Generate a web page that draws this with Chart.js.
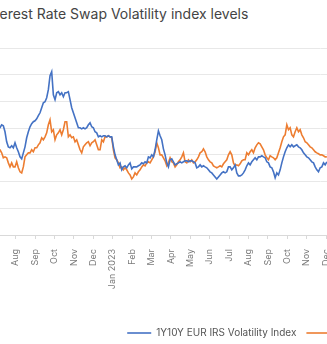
<!DOCTYPE html>
<html>
<head>
<meta charset="utf-8">
<script src="https://cdn.jsdelivr.net/npm/chart.js@4.4.1/dist/chart.umd.min.js"></script>
<style>
  html, body { margin: 0; padding: 0; background: #fff; overflow: hidden; width: 327px; height: 344px; }
  .title { position: absolute; left: -17px; top: 4px; font: 400 14px Inter, sans-serif; color: #444; white-space: nowrap; line-height: 20px; }
  .wrap { position: absolute; left: -60px; top: 0; width: 724px; height: 348px; }
</style>
</head>
<body>
<div class="title">Interest Rate Swap Volatility index levels</div>
<div class="wrap"><canvas id="chart" width="724" height="348"></canvas></div>
<script>
// ── Data ──────────────────────────────────────────────────────────────────────
// month axis: 0 = Jun 2022
const monthLabels = ['Jun', 'Jul', 'Aug', 'Sep', 'Oct', 'Nov', 'Dec', 'Jan 2023', 'Feb', 'Mar', 'Apr', 'May',
  'Jun', 'Jul', 'Aug', 'Sep', 'Oct', 'Nov', 'Dec', 'Jan 2024', 'Feb', 'Mar', 'Apr', 'May',
  'Jun', 'Jul', 'Aug', 'Sep', 'Oct', 'Nov', 'Dec', 'Jan 2025', 'Feb', 'Mar', 'Apr', 'May'];

const firstMonth = 1.014;  // first observation (early Jul 2022)
const monthStep  = 0.086;  // spacing between observations, in months

const seriesNames = ['1Y10Y EUR IRS Volatility Index', '1Y10Y USD IRS Volatility Index'];

const eurVol = [
  78.8, 79.5, 80.3, 82.5, 81.8, 77.3, 69.8, 66, 65.3, 66.8,
  65.3, 69, 65.3, 62.3, 58.5, 57, 61.5, 66, 72.8, 77.3,
  81, 83.3, 84.8, 85.5, 87, 89.3, 91.5, 95.3, 99, 99.8,
  102.8, 108.8, 119.3, 122.3, 105, 101.3, 106.5, 107.3, 105, 106.5,
  103.5, 106.5, 106.5, 107.3, 101.3, 95.3, 91.5, 87.8, 84, 80.3,
  80.3, 79.5, 80.3, 79.5, 80.3, 82.5, 84, 81, 80.3, 77.3,
  76.5, 73.5, 74.3, 73.5, 74.3, 74.3, 73.5, 74.3, 73.5, 73.5,
  66, 60, 56.3, 52.5, 54, 48.8, 51, 51.8, 50.3, 52.5,
  54, 49.5, 51, 51, 51, 51.8, 52.5, 54, 53.3, 54.8,
  54, 58.5, 57.8, 60, 58.5, 63.8, 71.3, 78, 74.3, 71.3,
  64.5, 60, 54, 51, 56.3, 57, 54.8, 52.5, 53.3, 54,
  54.8, 54, 54.8, 55.5, 55.5, 54.8, 55.5, 55.5, 54.8, 54,
  50.3, 51, 52.5, 51, 51.8, 51, 50.3, 48.8, 47.3, 46.5,
  45, 43.5, 42, 43.5, 45, 46.5, 47.3, 46.5, 47.3, 51,
  51, 48.8, 50.3, 52.5, 46.5, 44.3, 44.3, 45, 46.5, 48.8,
  51.8, 54, 52.5, 54.8, 56.3, 57.8, 56.3, 58.5, 58.5, 59.3,
  58.5, 57.8, 54.8, 54, 51, 50.3, 47.3, 42.8, 46.5, 45,
  48.8, 54, 58.5, 62.3, 65.3, 67.5, 66, 67.5, 66, 66.8,
  67.5, 66, 65.3, 63.8, 61.5, 60, 58.5, 57.8, 56.3, 54.8,
  54, 51, 48.8, 47.3, 50.3, 51, 54, 52.5, 54.8
];

const usdVol = [
  65.3, 64.5, 63.8, 61.5, 57.8, 58.5, 57.8, 54, 51, 54,
  51, 51, 54.8, 50.3, 47.3, 46.5, 51, 58.5, 60, 61.5,
  61.5, 63.8, 62.3, 65.3, 65.3, 67.5, 69, 72.8, 71.3, 73.5,
  76.5, 82.5, 86.3, 77.3, 78.8, 71.3, 75, 76.5, 78.8, 75,
  78.8, 84.8, 84.8, 73.5, 75, 72.8, 73.5, 69.8, 71.3, 67.5,
  63.8, 61.5, 66, 67.5, 69, 69.8, 66.8, 69, 69.8, 71.3,
  67.5, 63.8, 63.8, 71.3, 69.8, 73.5, 73.5, 74.3, 73.5, 72.8,
  63.8, 57.8, 56.3, 54, 50.3, 51, 48.8, 50.3, 48.8, 46.5,
  45, 42, 43.5, 46.5, 45, 47.3, 48.8, 51, 52.5, 51.8,
  54, 54.8, 54, 56.3, 58.5, 62.3, 69, 65.3, 60, 60,
  57.8, 55.5, 51.8, 54, 57.8, 54.8, 54, 51, 52.5, 54.8,
  56.3, 58.5, 61.5, 54.8, 54, 56.3, 54.8, 56.3, 54, 54.8,
  56.3, 58.5, 61.5, 62.3, 64.5, 62.3, 58.5, 56.3, 54.8, 54,
  51.8, 51, 50.3, 51, 51.8, 51, 53.3, 54.8, 56.3, 60,
  62.3, 60, 54, 51.8, 52.5, 51.8, 53.3, 55.5, 56.3, 56.3,
  61.5, 60, 62.3, 63.8, 61.5, 65.3, 67.5, 69, 68.3, 66,
  63.8, 60, 57.8, 56.3, 59.3, 58.5, 57.8, 56.3, 57.8, 61.5,
  65.3, 69.8, 73.5, 75, 82.5, 78.8, 80.3, 75, 73.5, 77.3,
  80.3, 77.3, 78.8, 75, 72.8, 69.8, 69, 67.5, 66, 65.3,
  63.8, 62.3, 61.5, 60.8, 60, 60, 59.3, 58.5, 58.5
];

// ── Chart ─────────────────────────────────────────────────────────────────────
const toPoints = vals => vals.map((v, i) => ({ x: firstMonth + i * monthStep, y: v }));
const font = 'Inter, "Noto Sans", sans-serif';

new Chart(document.getElementById('chart'), {
  type: 'line',
  data: {
    datasets: [
      { label: seriesNames[0], data: toPoints(eurVol), borderColor: '#4472c4', backgroundColor: '#4472c4', borderWidth: 1.6, pointRadius: 0, tension: 0 },
      { label: seriesNames[1], data: toPoints(usdVol), borderColor: '#ed7d31', backgroundColor: '#ed7d31', borderWidth: 1.6, pointRadius: 0, tension: 0 },
    ],
  },
  options: {
    responsive: false,
    animation: false,
    layout: { padding: { top: 48, left: 0, right: 0, bottom: 0 } },
    plugins: {
      legend: {
        position: 'bottom',
        labels: { usePointStyle: true, pointStyle: 'line', pointStyleWidth: 24, color: '#555', font: { family: font, size: 10 }, padding: 10 },
      },
      tooltip: { enabled: false },
    },
    scales: {
      x: {
        type: 'linear',
        min: 0,
        max: 35.43,
        // fixed axis height, and no extra side padding for the rotated end labels
        afterFit: s => { s.height = 83; s.paddingLeft = 0; s.paddingRight = 0; },
        grid: { drawOnChartArea: false, tickLength: 4, color: '#d9d9d9' },
        border: { color: '#d9d9d9' },
        ticks: {
          stepSize: 1, autoSkip: false, minRotation: 90, maxRotation: 90, padding: 10,
          color: '#7a7a7a', font: { family: font, size: 9 },
          callback: v => monthLabels[v] ?? '',
        },
      },
      y: {
        min: 0,
        max: 140,
        afterFit: s => { s.width = 37; },
        ticks: { stepSize: 20, color: '#777', font: { family: font, size: 9 } },
        grid: { color: '#e8e8e8', drawTicks: false },
        border: { display: false },
      },
    },
  },
});
</script>
</body>
</html>
